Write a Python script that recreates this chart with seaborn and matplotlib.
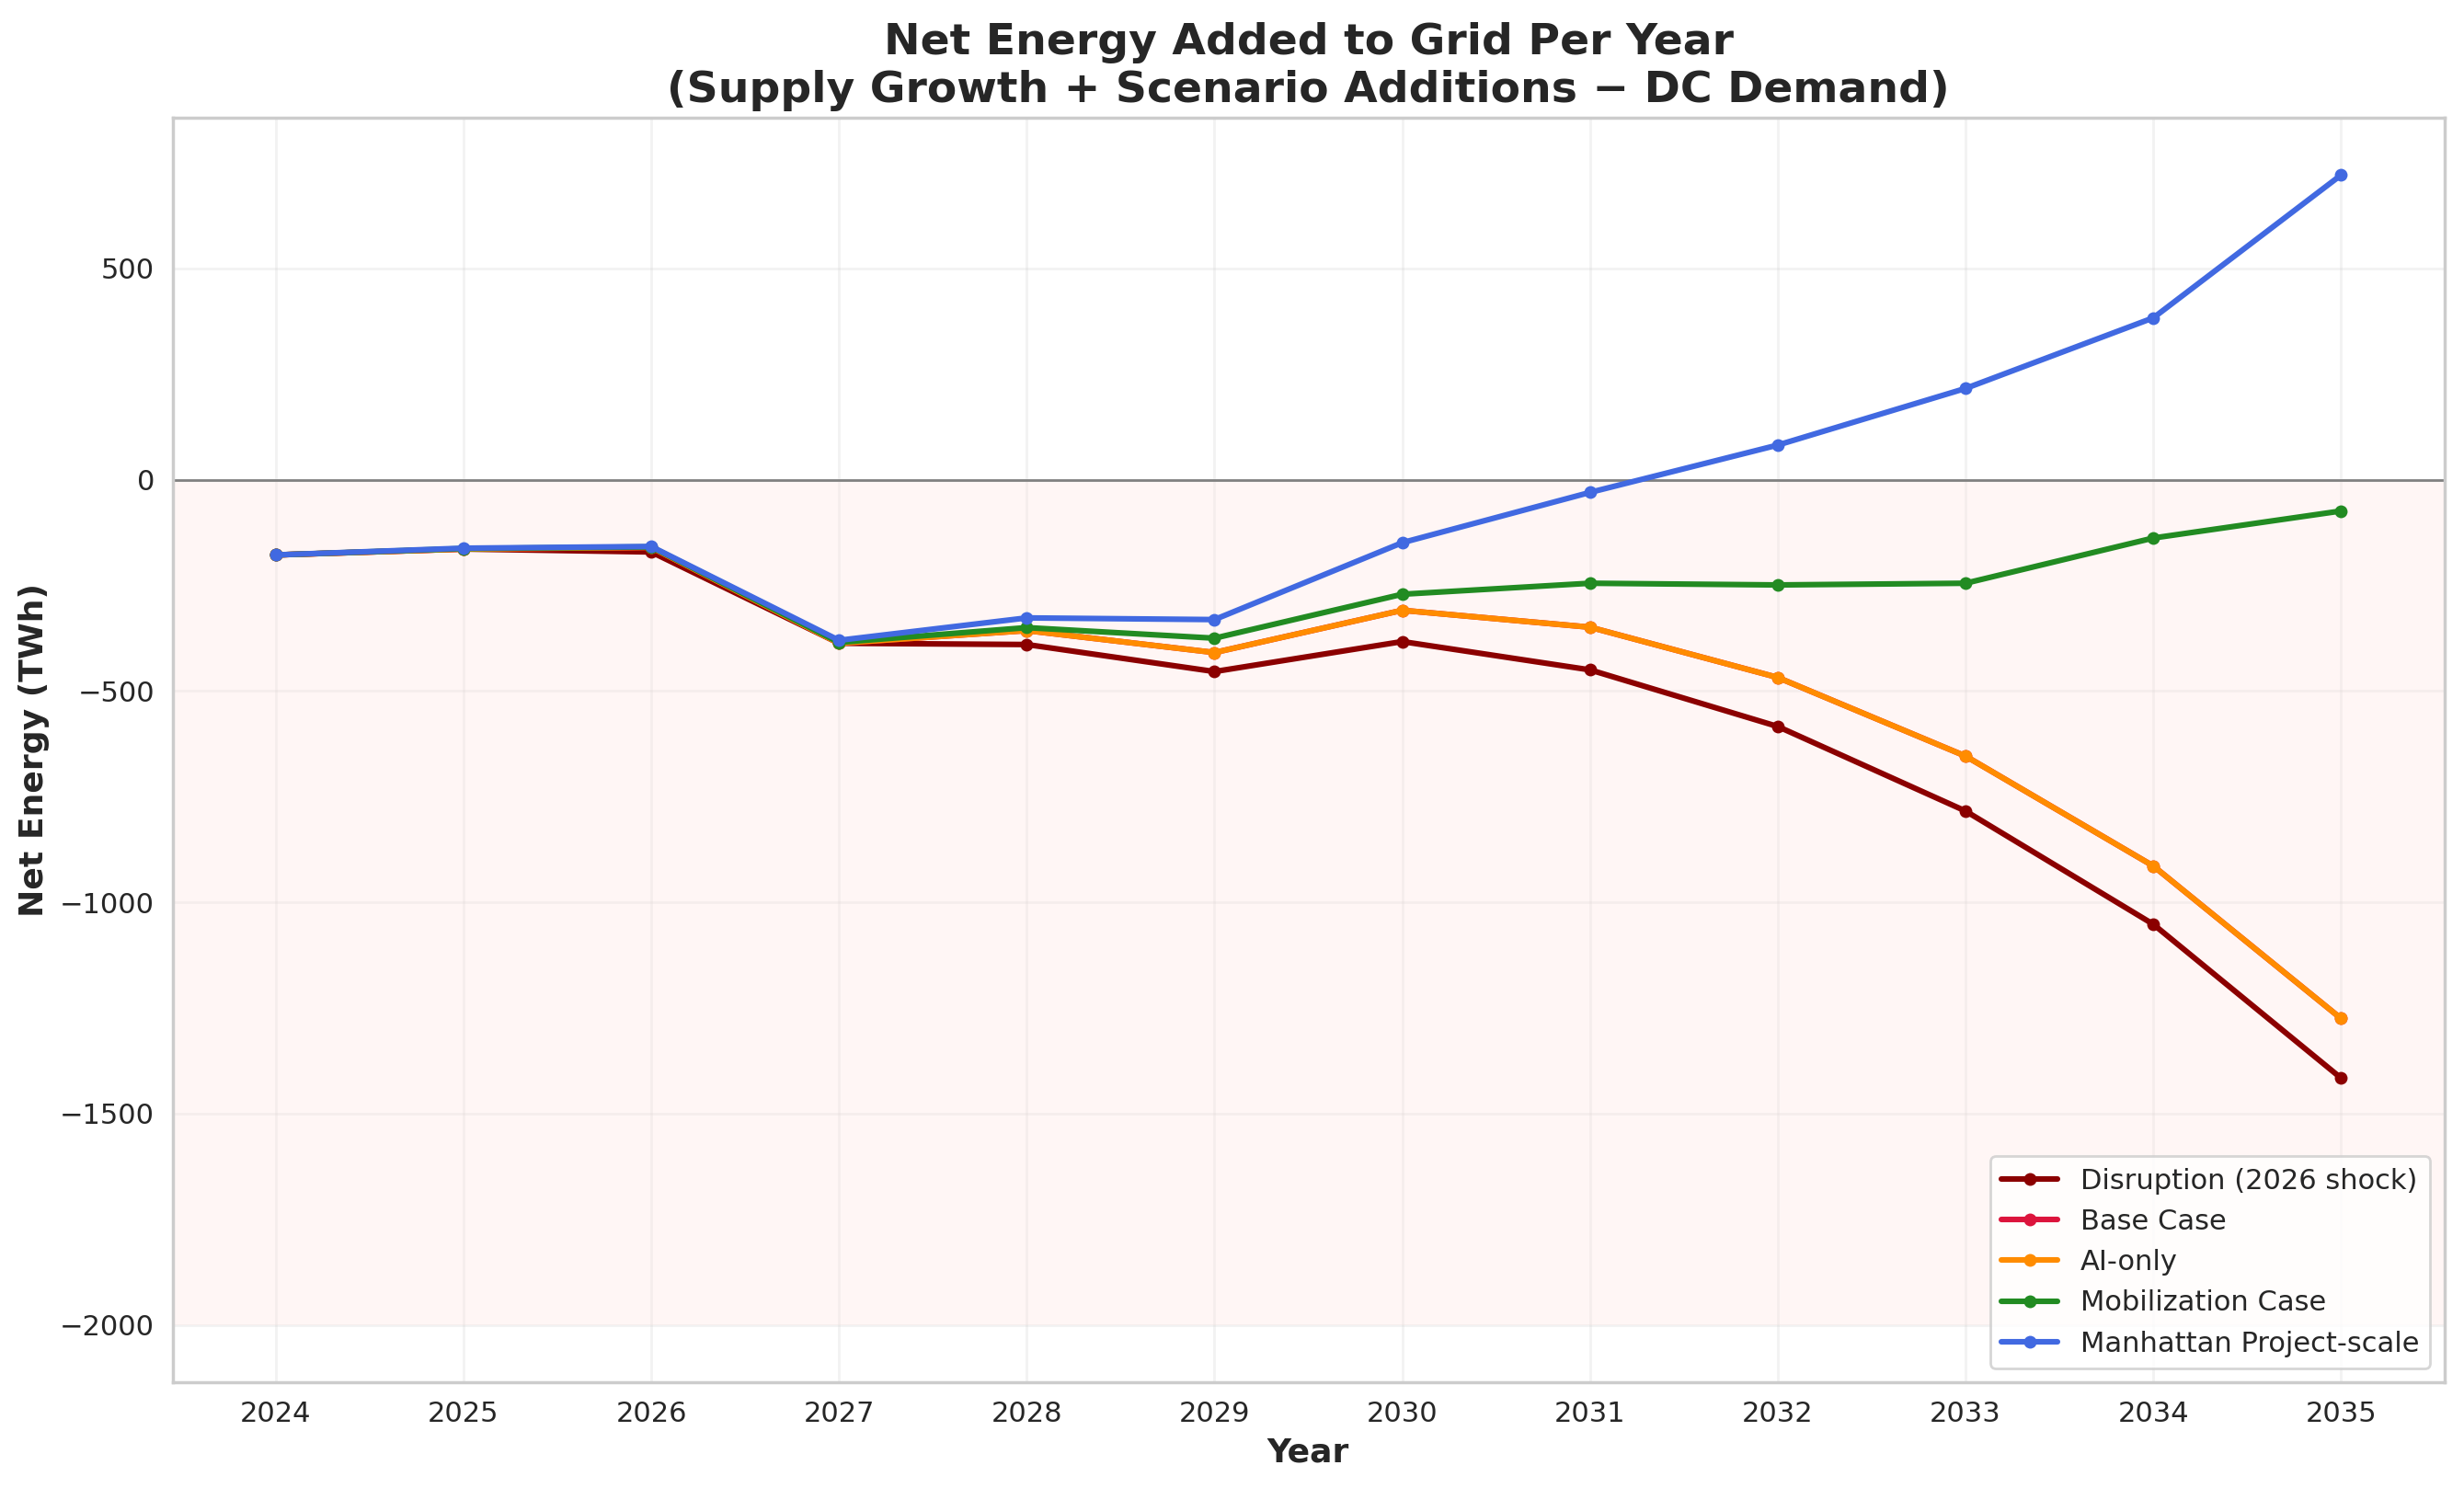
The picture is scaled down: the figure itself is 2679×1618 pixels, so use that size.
import seaborn as sns
import matplotlib.pyplot as plt
import numpy as np
import pandas as pd

sns.set_theme(style='whitegrid')
plt.rcParams['font.family'] = ['DejaVu Sans']

years = list(range(2024, 2036))
disruption = [-178, -164, -171, -387, -390, -454, -383, -450, -584, -784, -1052, -1416]
base_case = [-178, -164, -160, -387, -357, -409, -309, -349, -468, -654, -914, -1275]
ai_only = [-178, -164, -160, -387, -357, -409, -309, -349, -468, -654, -914, -1275]
mobilization = [-178, -163, -159, -385, -350, -375, -271, -245, -249, -245, -138, -74]
manhattan = [-178, -162, -158, -380, -327, -331, -149, -30, 82, 216, 383, 721]

names = ['Disruption (2026 shock)', 'Base Case', 'AI-only', 'Mobilization Case', 'Manhattan Project-scale']
colors = ['darkred', 'crimson', 'darkorange', 'forestgreen', 'royalblue']
series = [disruption, base_case, ai_only, mobilization, manhattan]

df = pd.concat([pd.DataFrame({'Year': years, 'Net': s, 'Scenario': n}) for n, s in zip(names, series)])

fig, ax = plt.subplots(figsize=(13.395, 8.09), dpi=200)
ax.axhspan(-2000, 0, color='mistyrose', alpha=0.3, lw=0)
ax.axhline(0, color='gray', lw=1)
sns.lineplot(data=df, x='Year', y='Net', hue='Scenario', hue_order=names,
             palette=dict(zip(names, colors)), marker='o', markersize=5,
             markeredgewidth=0, linewidth=2.2, ax=ax)

ax.set_xticks(years)
ax.set_xlim(2023.45, 2035.55)
ax.set_xlabel('Year', fontsize=13, fontweight='bold')
ax.set_ylabel('Net Energy (TWh)', fontsize=13, fontweight='bold')
ax.set_title('Net Energy Added to Grid Per Year\n(Supply Growth + Scenario Additions \u2212 DC Demand)',
             fontsize=17, fontweight='bold')
ax.tick_params(labelsize=11, length=3.5, width=1, color='#222222')
ax.grid(alpha=0.25)
for sp in ax.spines.values():
    sp.set_color('#cccccc')
ax.legend(loc='lower right', fontsize=11, title=None)
fig.subplots_adjust(left=0.070, right=0.992, top=0.921, bottom=0.071)
plt.savefig('out.png', dpi=200)
